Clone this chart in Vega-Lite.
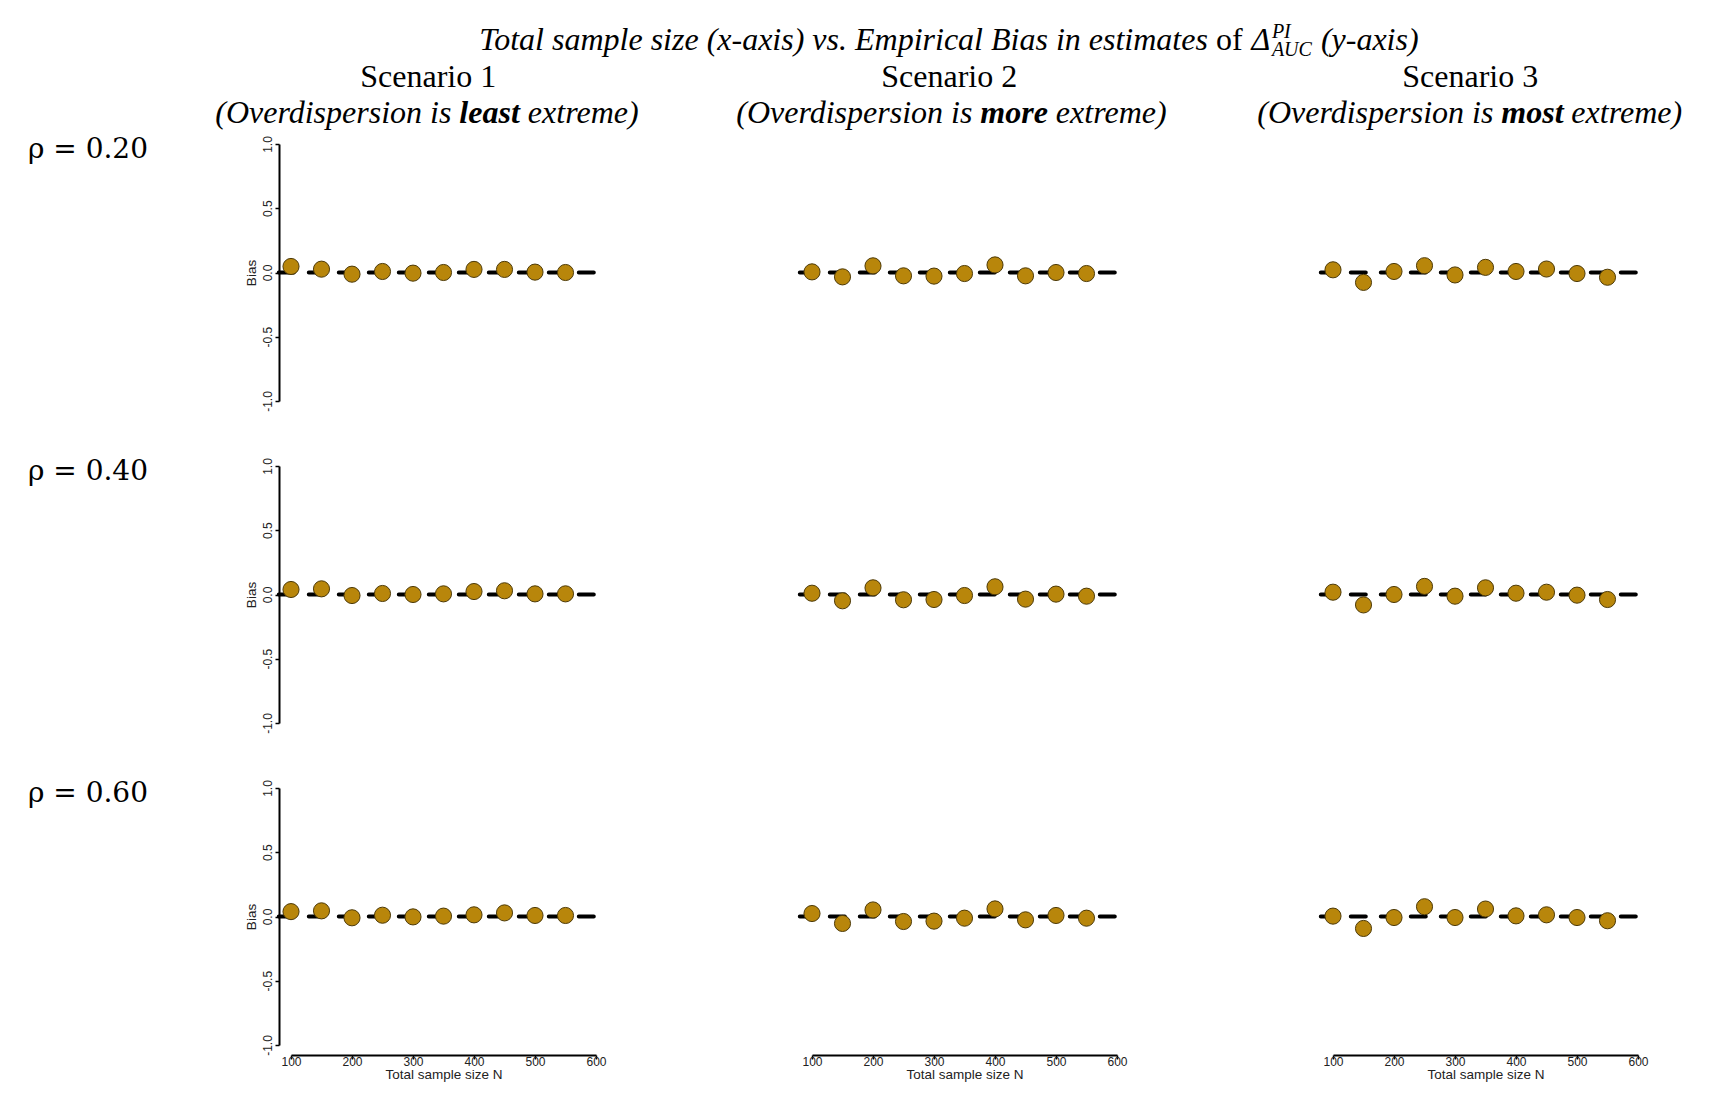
{
  "$schema": "https://vega.github.io/schema/vega-lite/v6.json",
  "background": "white",
  "padding": {"left": 27, "top": 22, "right": 10, "bottom": 5},
  "bounds": "flush",
  "spacing": {"row": 65, "column": 216},
  "data": {
    "values": [
      {"r": 0.2, "scenario": "Scenario 1", "degree": "least", "n": 100, "bias": 0.047},
      {"r": 0.2, "scenario": "Scenario 1", "degree": "least", "n": 150, "bias": 0.026},
      {"r": 0.2, "scenario": "Scenario 1", "degree": "least", "n": 200, "bias": -0.013},
      {"r": 0.2, "scenario": "Scenario 1", "degree": "least", "n": 250, "bias": 0.008},
      {"r": 0.2, "scenario": "Scenario 1", "degree": "least", "n": 300, "bias": -0.005},
      {"r": 0.2, "scenario": "Scenario 1", "degree": "least", "n": 350, "bias": 0.0},
      {"r": 0.2, "scenario": "Scenario 1", "degree": "least", "n": 400, "bias": 0.024},
      {"r": 0.2, "scenario": "Scenario 1", "degree": "least", "n": 450, "bias": 0.024},
      {"r": 0.2, "scenario": "Scenario 1", "degree": "least", "n": 500, "bias": 0.003},
      {"r": 0.2, "scenario": "Scenario 1", "degree": "least", "n": 550, "bias": 0.0},
      {"r": 0.4, "scenario": "Scenario 1", "degree": "least", "n": 100, "bias": 0.039},
      {"r": 0.4, "scenario": "Scenario 1", "degree": "least", "n": 150, "bias": 0.044},
      {"r": 0.4, "scenario": "Scenario 1", "degree": "least", "n": 200, "bias": -0.008},
      {"r": 0.4, "scenario": "Scenario 1", "degree": "least", "n": 250, "bias": 0.008},
      {"r": 0.4, "scenario": "Scenario 1", "degree": "least", "n": 300, "bias": 0.0},
      {"r": 0.4, "scenario": "Scenario 1", "degree": "least", "n": 350, "bias": 0.005},
      {"r": 0.4, "scenario": "Scenario 1", "degree": "least", "n": 400, "bias": 0.023},
      {"r": 0.4, "scenario": "Scenario 1", "degree": "least", "n": 450, "bias": 0.029},
      {"r": 0.4, "scenario": "Scenario 1", "degree": "least", "n": 500, "bias": 0.005},
      {"r": 0.4, "scenario": "Scenario 1", "degree": "least", "n": 550, "bias": 0.005},
      {"r": 0.6, "scenario": "Scenario 1", "degree": "least", "n": 100, "bias": 0.038},
      {"r": 0.6, "scenario": "Scenario 1", "degree": "least", "n": 150, "bias": 0.044},
      {"r": 0.6, "scenario": "Scenario 1", "degree": "least", "n": 200, "bias": -0.01},
      {"r": 0.6, "scenario": "Scenario 1", "degree": "least", "n": 250, "bias": 0.01},
      {"r": 0.6, "scenario": "Scenario 1", "degree": "least", "n": 300, "bias": -0.003},
      {"r": 0.6, "scenario": "Scenario 1", "degree": "least", "n": 350, "bias": 0.003},
      {"r": 0.6, "scenario": "Scenario 1", "degree": "least", "n": 400, "bias": 0.013},
      {"r": 0.6, "scenario": "Scenario 1", "degree": "least", "n": 450, "bias": 0.028},
      {"r": 0.6, "scenario": "Scenario 1", "degree": "least", "n": 500, "bias": 0.008},
      {"r": 0.6, "scenario": "Scenario 1", "degree": "least", "n": 550, "bias": 0.008},
      {"r": 0.2, "scenario": "Scenario 2", "degree": "more", "n": 100, "bias": 0.005},
      {"r": 0.2, "scenario": "Scenario 2", "degree": "more", "n": 150, "bias": -0.034},
      {"r": 0.2, "scenario": "Scenario 2", "degree": "more", "n": 200, "bias": 0.052},
      {"r": 0.2, "scenario": "Scenario 2", "degree": "more", "n": 250, "bias": -0.026},
      {"r": 0.2, "scenario": "Scenario 2", "degree": "more", "n": 300, "bias": -0.028},
      {"r": 0.2, "scenario": "Scenario 2", "degree": "more", "n": 350, "bias": -0.008},
      {"r": 0.2, "scenario": "Scenario 2", "degree": "more", "n": 400, "bias": 0.059},
      {"r": 0.2, "scenario": "Scenario 2", "degree": "more", "n": 450, "bias": -0.026},
      {"r": 0.2, "scenario": "Scenario 2", "degree": "more", "n": 500, "bias": 0.0},
      {"r": 0.2, "scenario": "Scenario 2", "degree": "more", "n": 550, "bias": -0.008},
      {"r": 0.4, "scenario": "Scenario 2", "degree": "more", "n": 100, "bias": 0.01},
      {"r": 0.4, "scenario": "Scenario 2", "degree": "more", "n": 150, "bias": -0.049},
      {"r": 0.4, "scenario": "Scenario 2", "degree": "more", "n": 200, "bias": 0.052},
      {"r": 0.4, "scenario": "Scenario 2", "degree": "more", "n": 250, "bias": -0.041},
      {"r": 0.4, "scenario": "Scenario 2", "degree": "more", "n": 300, "bias": -0.039},
      {"r": 0.4, "scenario": "Scenario 2", "degree": "more", "n": 350, "bias": -0.008},
      {"r": 0.4, "scenario": "Scenario 2", "degree": "more", "n": 400, "bias": 0.06},
      {"r": 0.4, "scenario": "Scenario 2", "degree": "more", "n": 450, "bias": -0.036},
      {"r": 0.4, "scenario": "Scenario 2", "degree": "more", "n": 500, "bias": 0.003},
      {"r": 0.4, "scenario": "Scenario 2", "degree": "more", "n": 550, "bias": -0.013},
      {"r": 0.6, "scenario": "Scenario 2", "degree": "more", "n": 100, "bias": 0.023},
      {"r": 0.6, "scenario": "Scenario 2", "degree": "more", "n": 150, "bias": -0.054},
      {"r": 0.6, "scenario": "Scenario 2", "degree": "more", "n": 200, "bias": 0.051},
      {"r": 0.6, "scenario": "Scenario 2", "degree": "more", "n": 250, "bias": -0.039},
      {"r": 0.6, "scenario": "Scenario 2", "degree": "more", "n": 300, "bias": -0.036},
      {"r": 0.6, "scenario": "Scenario 2", "degree": "more", "n": 350, "bias": -0.013},
      {"r": 0.6, "scenario": "Scenario 2", "degree": "more", "n": 400, "bias": 0.059},
      {"r": 0.6, "scenario": "Scenario 2", "degree": "more", "n": 450, "bias": -0.026},
      {"r": 0.6, "scenario": "Scenario 2", "degree": "more", "n": 500, "bias": 0.008},
      {"r": 0.6, "scenario": "Scenario 2", "degree": "more", "n": 550, "bias": -0.013},
      {"r": 0.2, "scenario": "Scenario 3", "degree": "most", "n": 100, "bias": 0.021},
      {"r": 0.2, "scenario": "Scenario 3", "degree": "most", "n": 150, "bias": -0.077},
      {"r": 0.2, "scenario": "Scenario 3", "degree": "most", "n": 200, "bias": 0.008},
      {"r": 0.2, "scenario": "Scenario 3", "degree": "most", "n": 250, "bias": 0.053},
      {"r": 0.2, "scenario": "Scenario 3", "degree": "most", "n": 300, "bias": -0.019},
      {"r": 0.2, "scenario": "Scenario 3", "degree": "most", "n": 350, "bias": 0.04},
      {"r": 0.2, "scenario": "Scenario 3", "degree": "most", "n": 400, "bias": 0.008},
      {"r": 0.2, "scenario": "Scenario 3", "degree": "most", "n": 450, "bias": 0.027},
      {"r": 0.2, "scenario": "Scenario 3", "degree": "most", "n": 500, "bias": -0.008},
      {"r": 0.2, "scenario": "Scenario 3", "degree": "most", "n": 550, "bias": -0.037},
      {"r": 0.4, "scenario": "Scenario 3", "degree": "most", "n": 100, "bias": 0.018},
      {"r": 0.4, "scenario": "Scenario 3", "degree": "most", "n": 150, "bias": -0.081},
      {"r": 0.4, "scenario": "Scenario 3", "degree": "most", "n": 200, "bias": 0.0},
      {"r": 0.4, "scenario": "Scenario 3", "degree": "most", "n": 250, "bias": 0.063},
      {"r": 0.4, "scenario": "Scenario 3", "degree": "most", "n": 300, "bias": -0.013},
      {"r": 0.4, "scenario": "Scenario 3", "degree": "most", "n": 350, "bias": 0.052},
      {"r": 0.4, "scenario": "Scenario 3", "degree": "most", "n": 400, "bias": 0.01},
      {"r": 0.4, "scenario": "Scenario 3", "degree": "most", "n": 450, "bias": 0.018},
      {"r": 0.4, "scenario": "Scenario 3", "degree": "most", "n": 500, "bias": -0.005},
      {"r": 0.4, "scenario": "Scenario 3", "degree": "most", "n": 550, "bias": -0.039},
      {"r": 0.6, "scenario": "Scenario 3", "degree": "most", "n": 100, "bias": 0.003},
      {"r": 0.6, "scenario": "Scenario 3", "degree": "most", "n": 150, "bias": -0.093},
      {"r": 0.6, "scenario": "Scenario 3", "degree": "most", "n": 200, "bias": -0.008},
      {"r": 0.6, "scenario": "Scenario 3", "degree": "most", "n": 250, "bias": 0.076},
      {"r": 0.6, "scenario": "Scenario 3", "degree": "most", "n": 300, "bias": -0.008},
      {"r": 0.6, "scenario": "Scenario 3", "degree": "most", "n": 350, "bias": 0.058},
      {"r": 0.6, "scenario": "Scenario 3", "degree": "most", "n": 400, "bias": 0.005},
      {"r": 0.6, "scenario": "Scenario 3", "degree": "most", "n": 450, "bias": 0.013},
      {"r": 0.6, "scenario": "Scenario 3", "degree": "most", "n": 500, "bias": -0.008},
      {"r": 0.6, "scenario": "Scenario 3", "degree": "most", "n": 550, "bias": -0.033}
    ]
  },
  "facet": {
    "row": {
      "field": "r",
      "type": "ordinal",
      "header": {
        "title": null,
        "labelExpr": "'ρ = ' + format(datum.value, '.2f')",
        "labelOrient": "left",
        "labelAngle": 0,
        "labelAlign": "left",
        "labelAnchor": "end",
        "labelBaseline": "line-top",
        "labelLineHeight": 12,
        "labelPadding": 96,
        "labelFont": "DejaVu Serif",
        "labelFontSize": 28,
        "labelColor": "black"
      }
    },
    "column": {
      "field": "scenario",
      "type": "nominal",
      "header": {"title": null, "labels": false}
    }
  },
  "spec": {
    "width": 305,
    "height": 257,
    "layer": [
      {
        "transform": [{"filter": "datum.n == 100"}],
        "mark": {"type": "rule", "color": "black", "strokeWidth": 4, "strokeDash": [15, 15], "strokeCap": "round"},
        "encoding": {
          "x": {"datum": 80, "type": "quantitative"},
          "x2": {"datum": 620},
          "y": {"datum": 0, "type": "quantitative"}
        }
      },
      {
        "mark": {"type": "circle", "size": 260, "fill": "#B8860B", "stroke": "#4d3a08", "strokeWidth": 1, "opacity": 1},
        "encoding": {
          "x": {
            "field": "n",
            "type": "quantitative",
            "scale": {"domain": [100, 600], "nice": false, "zero": false},
            "axis": {
              "title": "Total sample size N",
              "values": [100, 150, 200, 250, 300, 350, 400, 450, 500, 550, 600],
              "labelExpr": "datum.value % 100 == 0 ? format(datum.value, 'd') : ''",
              "offset": 10,
              "labelFlush": false,
              "labelOverlap": false,
              "tickSize": 4,
              "labelPadding": -3,
              "titlePadding": 0
            }
          },
          "y": {
            "field": "bias",
            "type": "quantitative",
            "scale": {"domain": [-1, 1], "nice": false, "zero": false},
            "axis": {
              "title": "Bias",
              "values": [-1, -0.5, 0, 0.5, 1],
              "labelExpr": "datum.value < 0 ? '-' + format(-datum.value, '.1f') : format(datum.value, '.1f')",
              "labelAngle": -90,
              "offset": 12,
              "labelFlush": false,
              "labelOverlap": false,
              "tickSize": 4,
              "labelPadding": 1,
              "titlePadding": 3
            }
          }
        }
      },
      {
        "transform": [{"filter": "datum.r == 0.2 && datum.n == 100"}],
        "mark": {"type": "text", "font": "Liberation Serif", "fontSize": 32, "align": "center", "baseline": "alphabetic", "color": "black"},
        "encoding": {
          "x": {"datum": 325, "type": "quantitative"},
          "y": {"datum": 1.444, "type": "quantitative"},
          "text": {"field": "scenario"}
        }
      },
      {
        "transform": [{"filter": "datum.r == 0.2 && datum.n == 100"}],
        "mark": {"type": "text", "font": "Liberation Serif", "fontSize": 32, "fontStyle": "italic", "align": "right", "baseline": "alphabetic", "dx": -8, "color": "black"},
        "encoding": {
          "x": {"datum": 376, "type": "quantitative"},
          "y": {"datum": 1.163, "type": "quantitative"},
          "text": {"value": "(Overdispersion is"}
        }
      },
      {
        "transform": [{"filter": "datum.r == 0.2 && datum.n == 100"}],
        "mark": {"type": "text", "font": "Liberation Serif", "fontSize": 32, "fontStyle": "italic", "fontWeight": "bold", "align": "left", "baseline": "alphabetic", "color": "black"},
        "encoding": {
          "x": {"datum": 376, "type": "quantitative"},
          "y": {"datum": 1.163, "type": "quantitative"},
          "text": {"field": "degree"}
        }
      },
      {
        "transform": [{"filter": "datum.r == 0.2 && datum.n == 100"}],
        "mark": {"type": "text", "font": "Liberation Serif", "fontSize": 32, "fontStyle": "italic", "align": "left", "baseline": "alphabetic", "color": "black",
          "dx": {"expr": "datum.degree == 'more' ? 75.5 : datum.degree == 'most' ? 70 : 68.5"}},
        "encoding": {
          "x": {"datum": 376, "type": "quantitative"},
          "y": {"datum": 1.163, "type": "quantitative"},
          "text": {"value": "extreme)"}
        }
      },
      {
        "transform": [{"filter": "datum.r == 0.2 && datum.n == 100 && datum.scenario == 'Scenario 2'"}],
        "mark": {"type": "text", "font": "Liberation Serif", "fontSize": 32, "fontStyle": "italic", "align": "right", "baseline": "alphabetic", "color": "black"},
        "encoding": {
          "x": {"datum": 749, "type": "quantitative"},
          "y": {"datum": 1.73, "type": "quantitative"},
          "text": {"value": "Total sample size (x-axis) vs. Empirical Bias in estimates"}
        }
      },
      {
        "transform": [{"filter": "datum.r == 0.2 && datum.n == 100 && datum.scenario == 'Scenario 2'"}],
        "mark": {"type": "text", "font": "Liberation Serif", "fontSize": 32, "align": "left", "baseline": "alphabetic", "dx": 8, "color": "black"},
        "encoding": {
          "x": {"datum": 749, "type": "quantitative"},
          "y": {"datum": 1.73, "type": "quantitative"},
          "text": {"value": "of"}
        }
      },
      {
        "transform": [{"filter": "datum.r == 0.2 && datum.n == 100 && datum.scenario == 'Scenario 2'"}],
        "mark": {"type": "text", "font": "Liberation Serif", "fontSize": 32, "fontStyle": "italic", "align": "left", "baseline": "alphabetic", "dx": 43.5, "color": "black"},
        "encoding": {
          "x": {"datum": 749, "type": "quantitative"},
          "y": {"datum": 1.73, "type": "quantitative"},
          "text": {"value": "Δ"}
        }
      },
      {
        "transform": [{"filter": "datum.r == 0.2 && datum.n == 100 && datum.scenario == 'Scenario 2'"}],
        "mark": {"type": "text", "font": "Liberation Serif", "fontSize": 20, "fontStyle": "italic", "align": "left", "baseline": "alphabetic", "dx": 64, "dy": -12, "color": "black"},
        "encoding": {
          "x": {"datum": 749, "type": "quantitative"},
          "y": {"datum": 1.73, "type": "quantitative"},
          "text": {"value": "PI"}
        }
      },
      {
        "transform": [{"filter": "datum.r == 0.2 && datum.n == 100 && datum.scenario == 'Scenario 2'"}],
        "mark": {"type": "text", "font": "Liberation Serif", "fontSize": 20, "fontStyle": "italic", "align": "left", "baseline": "alphabetic", "dx": 64, "dy": 6, "color": "black"},
        "encoding": {
          "x": {"datum": 749, "type": "quantitative"},
          "y": {"datum": 1.73, "type": "quantitative"},
          "text": {"value": "AUC"}
        }
      },
      {
        "transform": [{"filter": "datum.r == 0.2 && datum.n == 100 && datum.scenario == 'Scenario 2'"}],
        "mark": {"type": "text", "font": "Liberation Serif", "fontSize": 32, "fontStyle": "italic", "align": "left", "baseline": "alphabetic", "dx": 113, "color": "black"},
        "encoding": {
          "x": {"datum": 749, "type": "quantitative"},
          "y": {"datum": 1.73, "type": "quantitative"},
          "text": {"value": "(y-axis)"}
        }
      }
    ]
  },
  "config": {
    "view": {"stroke": null},
    "axis": {
      "grid": false,
      "domainColor": "black",
      "domainWidth": 2,
      "tickColor": "black",
      "tickWidth": 1.5,
      "labelFont": "Liberation Sans",
      "labelFontSize": 12,
      "labelColor": "#222222",
      "titleFont": "Liberation Sans",
      "titleFontSize": 13.5,
      "titleFontWeight": "normal",
      "titleColor": "#222222"
    }
  }
}
